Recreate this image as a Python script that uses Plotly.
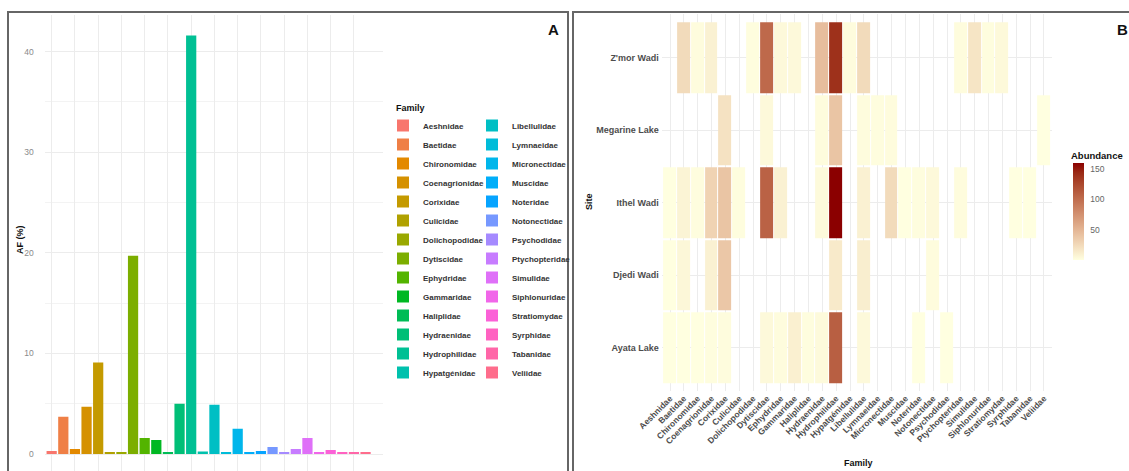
import math
import plotly.graph_objects as go

# ---------------- data ----------------
families = [
    "Aeshnidae", "Baetidae", "Chironomidae", "Coenagrionidae", "Corixidae",
    "Culicidae", "Dolichopodidae", "Dytiscidae", "Ephydridae", "Gammaridae",
    "Haliplidae", "Hydraenidae", "Hydrophilidae", "Hypatgénidae", "Libellulidae",
    "Lymnaeidae", "Micronectidae", "Muscidae", "Noteridae", "Notonectidae",
    "Psychodidae", "Ptychopteridae", "Simulidae", "Siphlonuridae", "Stratiomydae",
    "Syrphidae", "Tabanidae", "Veliidae",
]

# relative abundance of each family (%)
af_percent = [
    0.3, 3.7, 0.5, 4.7, 9.1,
    0.2, 0.15, 19.7, 1.6, 1.4,
    0.17, 5.0, 41.6, 0.25, 4.9,
    0.2, 2.5, 0.12, 0.3, 0.7,
    0.12, 0.5, 1.6, 0.12, 0.4,
    0.1, 0.1, 0.1,
]

# abundance per site and family (None = not recorded)
sites = ["Ayata Lake", "Djedi Wadi", "Ithel Wadi", "Megarine Lake", "Z'mor Wadi"]

zmor_wadi = [None, 25, 3, 10, None, None, 2, 103, 5, 5, None, 45, 140, 3, 25,
             None, None, None, None, None, None, 3, 18, 2, 5, None, None, None]
megarine_lake = [None, None, None, None, 20, None, None, 5, None, None, None, 3, 40, None, 3,
                 2, 3, None, None, None, None, None, None, None, None, None, None, 1]
ithel_wadi = [1, 8, 2, 30, 40, 2, None, 108, 10, None, None, 4, 160, None, 10,
              None, 25, 1, 2, 5, None, 3, None, None, None, 1, 1, None]
djedi_wadi = [1, 6, None, 10, 38, None, None, None, None, None, None, None, 15, None, 12,
              None, None, None, None, 3, None, None, None, None, None, None, None, None]
ayata_lake = [1, 1, 1, 2, 3, None, None, 5, 3, 11, 2, 4, 110, None, 5,
              None, None, None, 1, None, 1, None, None, None, None, None, None, None]

abundance = [ayata_lake, djedi_wadi, ithel_wadi, megarine_lake, zmor_wadi]

af_ticks = [0, 10, 20, 30, 40]
abundance_ticks = [50, 100, 150]


# ---------------- colour helpers ----------------
def _gamma(c):
    c = 12.92 * c if c <= 0.0031308 else 1.055 * c ** (1 / 2.4) - 0.055
    return min(1.0, max(0.0, c))


def _xyz_to_hex(X, Y, Z):
    r = 3.240479 * X - 1.537150 * Y - 0.498535 * Z
    g = -0.969256 * X + 1.875992 * Y + 0.041556 * Z
    b = 0.055648 * X - 0.204043 * Y + 1.057311 * Z
    return "#%02x%02x%02x" % tuple(round(_gamma(v) * 255) for v in (r, g, b))


def hcl_hex(h_deg, c=100.0, l=65.0):
    """polar LUV (HCL) colour, as used by the default discrete hue palette"""
    Xn, Yn, Zn = 95.047, 100.0, 108.883
    h = math.radians(h_deg)
    u, v = c * math.cos(h), c * math.sin(h)
    Y = Yn * ((l + 16) / 116) ** 3
    den = Xn + 15 * Yn + 3 * Zn
    un, vn = 4 * Xn / den, 9 * Yn / den
    up, vp = u / (13 * l) + un, v / (13 * l) + vn
    X = 9.0 * Y * up / (4 * vp)
    Z = 3 * Y / vp - X / 3 - 5 * Y
    return _xyz_to_hex(X / 100, Y / 100, Z / 100)


WHITE = (0.95047, 1.0, 1.08883)


def _lin(c):
    c /= 255
    return c / 12.92 if c <= 0.04045 else ((c + 0.055) / 1.055) ** 2.4


def hex_to_lab(hx):
    r, g, b = (_lin(int(hx[i:i + 2], 16)) for i in (1, 3, 5))
    X = 0.4124 * r + 0.3576 * g + 0.1805 * b
    Y = 0.2126 * r + 0.7152 * g + 0.0722 * b
    Z = 0.0193 * r + 0.1192 * g + 0.9505 * b
    d = 6 / 29

    def f(t):
        return t ** (1 / 3) if t > d ** 3 else t / (3 * d * d) + 4 / 29

    fx, fy, fz = f(X / WHITE[0]), f(Y / WHITE[1]), f(Z / WHITE[2])
    return 116 * fy - 16, 500 * (fx - fy), 200 * (fy - fz)


def lab_to_hex(L, a, b):
    d = 6 / 29

    def finv(t):
        return t ** 3 if t > d else 3 * d * d * (t - 4 / 29)

    fy = (L + 16) / 116
    fx, fz = fy + a / 500, fy - b / 200
    return _xyz_to_hex(WHITE[0] * finv(fx), WHITE[1] * finv(fy), WHITE[2] * finv(fz))


def lab_gradient(low, high, n=11):
    l0, l1 = hex_to_lab(low), hex_to_lab(high)
    out = []
    for i in range(n):
        t = i / (n - 1)
        out.append([t, lab_to_hex(*(p + (q - p) * t for p, q in zip(l0, l1)))])
    return out


family_colors = [hcl_hex(15 + 360 * i / len(families)) for i in range(len(families))]
heat_scale = lab_gradient("#FFFFE0", "#8B0000")

# ---------------- figure ----------------
W, H = 1129, 471
FONT = "Liberation Sans, Arial, sans-serif"


def px_x(p):
    return p / W


def px_y(p):
    return (H - p) / H


fig = go.Figure()

half = len(families) // 2
for i, (fam, val, col) in enumerate(zip(families, af_percent, family_colors)):
    fig.add_trace(go.Bar(
        x=[fam], y=[val], name=fam,
        marker=dict(color=col, line=dict(width=0)),
        legend="legend" if i < half else "legend2",
        xaxis="x", yaxis="y",
    ))

fig.add_trace(go.Heatmap(
    x=families, y=sites, z=abundance,
    colorscale=heat_scale, zmin=1, zmax=160,
    xgap=1, ygap=2,
    xaxis="x2", yaxis="y2",
    colorbar=dict(
        thickness=11, len=97, lenmode="pixels",
        x=px_x(1073), xanchor="left", xpad=0,
        y=px_y(211), yanchor="middle", ypad=0,
        tickvals=abundance_ticks, ticks="outside", ticklen=5,
        tickcolor="rgba(0,0,0,0)", outlinewidth=0,
        tickfont=dict(family=FONT, size=8.5, color="#666"),
    ),
))

grid = "#ECECEC"
legend_font = dict(family=FONT, size=8, color="#333", weight="bold")
fig.update_layout(
    width=W, height=H,
    margin=dict(l=0, r=0, t=0, b=0, autoexpand=False),
    paper_bgcolor="white", plot_bgcolor="white",
    barmode="overlay", bargap=0.12,
    showlegend=True,
    xaxis=dict(
        domain=[px_x(44.7), px_x(383)], type="category", automargin=False,
        categoryorder="array", categoryarray=families,
        range=[-0.6, 28.5], showticklabels=False, ticks="",
        showgrid=True, gridcolor=grid, gridwidth=1, zeroline=False, showline=False,
    ),
    yaxis=dict(
        domain=[0, px_y(15)], range=[-1.69, 43.64], automargin=False,
        tickvals=af_ticks, ticks="", ticklabelstandoff=10,
        tickfont=dict(family=FONT, size=8.5, color="#8a8a8a"),
        showgrid=True, gridcolor=grid, gridwidth=1, zeroline=False, showline=False,
        minor=dict(dtick=5, showgrid=True, gridcolor="#F3F3F3", gridwidth=1),
    ),
    xaxis2=dict(
        domain=[px_x(661.7), px_x(1052.3)], anchor="y2", type="category", automargin=False,
        categoryorder="array", categoryarray=families,
        range=[-0.6, 27.6], tickangle=-45, ticks="",
        tickfont=dict(family=FONT, size=8.5, color="#4d4d4d", weight="bold"),
        showgrid=True, gridcolor=grid, gridwidth=1, zeroline=False, showline=False,
    ),
    yaxis2=dict(
        domain=[px_y(391), px_y(14)], anchor="x2", type="category", automargin=False,
        categoryorder="array", categoryarray=sites,
        range=[-0.6, 4.6], ticks="", ticklabelstandoff=2,
        tickfont=dict(family=FONT, size=9, color="#4d4d4d", weight="bold"),
        showgrid=True, gridcolor=grid, gridwidth=1, zeroline=False, showline=False,
    ),
    legend=dict(
        x=px_x(383), y=px_y(111), xanchor="left", yanchor="top",
        bgcolor="rgba(0,0,0,0)", borderwidth=0, tracegroupgap=0,
        font=legend_font,
    ),
    legend2=dict(
        x=px_x(472), y=px_y(111), xanchor="left", yanchor="top",
        bgcolor="rgba(0,0,0,0)", borderwidth=0, tracegroupgap=0,
        font=legend_font,
    ),
)

# panel frames
frame = dict(color="#666666", width=2)
fig.add_shape(type="rect", xref="paper", yref="paper",
              x0=px_x(8), x1=px_x(568), y0=-0.05, y1=px_y(12), line=frame, layer="above")
fig.add_shape(type="rect", xref="paper", yref="paper",
              x0=px_x(573), x1=1.05, y0=-0.05, y1=px_y(12), line=frame, layer="above")


def label(text, x, y, size=9, angle=0, xanchor="center"):
    fig.add_annotation(text=text, x=px_x(x), y=px_y(y), xref="paper", yref="paper",
                       xanchor=xanchor, yanchor="middle", textangle=angle,
                       showarrow=False,
                       font=dict(family=FONT, size=size, color="#111", weight="bold"))


# axis, legend and colour-bar titles, panel letters
label("AF (%)", 20, 240, angle=-90)
label("Family", 394, 108, xanchor="left")
label("Site", 589, 202, angle=-90)
label("Family", 858, 463)
label("Abundance", 1069, 155, size=9.5, xanchor="left")
label("A", 553, 30, size=15)
label("B", 1122, 30, size=15)

fig.write_html("out.html")
